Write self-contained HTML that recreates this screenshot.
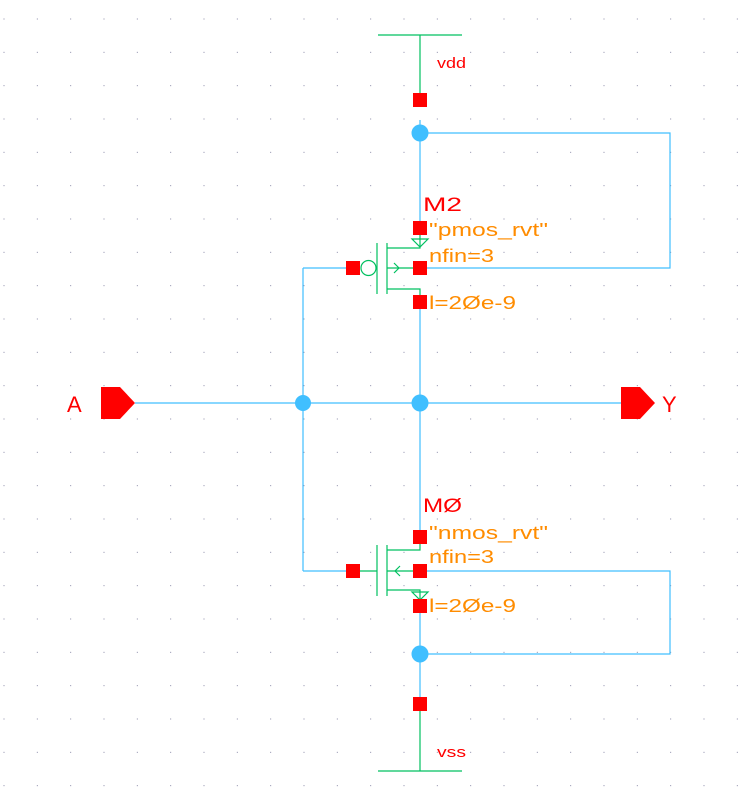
<!DOCTYPE html>
<html><head><style>html,body{margin:0;padding:0;background:#fff}svg{display:block}</style></head>
<body>
<svg width="755" height="805" xmlns="http://www.w3.org/2000/svg">
<defs>
<pattern id="g" x="3.5" y="18.5" width="33.333" height="33.333" patternUnits="userSpaceOnUse">
<rect x="0" y="0" width="1" height="1" fill="#8a8aa8"/>
</pattern>
</defs>
<rect width="755" height="805" fill="url(#g)"/>
<g stroke="#40bfff" stroke-width="1.2" fill="none">
<path d="M420 120V228M420 133H670V268H420M420 302V537M135 403H622M303 268V571M303 268H353M303 571H353M420 571H670V654H420M420 606V704"/>
</g>
<g stroke="#00c060" stroke-width="1.2" fill="none">
<path d="M378 35H462M420 35V100M420 704V771M378 771H462"/>
<path d="M377 243V294M387 243V294M387 248H420V228M387 268H420M387 289H420V302"/>
<circle cx="368.5" cy="268" r="7.5"/>
<path d="M412 239H428L420 247Z"/>
<path d="M394 263L399 268L394 273"/>
<path d="M377 545V596M387 545V596M387 550H420V537M360 571H377M387 571H420M387 590H420V606"/>
<path d="M412 592H428L420 600Z"/>
<path d="M400 566L395 571L400 576"/>
</g>
<g fill="#40bfff">
<circle cx="420" cy="133" r="8.5"/><circle cx="303" cy="403" r="8"/><circle cx="420" cy="403" r="8.5"/><circle cx="420" cy="654" r="8.5"/>
</g>
<g fill="#ff0000">
<rect x="413" y="93" width="14" height="14"/>
<rect x="413" y="221" width="14" height="14"/><rect x="413" y="261" width="14" height="14"/><rect x="413" y="295" width="14" height="14"/><rect x="346" y="261" width="14" height="14"/>
<rect x="413" y="530" width="14" height="14"/><rect x="413" y="564" width="14" height="14"/><rect x="413" y="599" width="14" height="14"/><rect x="346" y="564" width="14" height="14"/>
<rect x="413" y="697" width="14" height="14"/>
<path d="M101 387H120L135 403L120 419H101Z"/>
<path d="M621 387H640L655 403L640 419H621Z"/>
</g>
<g fill="#ff0000" font-family="Liberation Sans, sans-serif" lengthAdjust="spacingAndGlyphs">
<text x="437" y="68" font-size="15" textLength="29" lengthAdjust="spacingAndGlyphs">vdd</text>
<text x="437" y="757" font-size="15" textLength="29" lengthAdjust="spacingAndGlyphs">vss</text>
<text x="423" y="211" font-size="19" textLength="39" lengthAdjust="spacingAndGlyphs">M2</text>
<text x="423" y="512" font-size="19" textLength="39" lengthAdjust="spacingAndGlyphs">MØ</text>
<text x="67" y="412" font-size="22">A</text>
<text x="662" y="412" font-size="22">Y</text>
</g>
<g fill="#ff8c00" font-family="Liberation Sans, sans-serif" font-size="18">
<text x="429" y="236" textLength="119" lengthAdjust="spacingAndGlyphs">"pmos_rvt"</text>
<text x="429" y="262" textLength="65" lengthAdjust="spacingAndGlyphs">nfin=3</text>
<text x="429" y="309" textLength="87" lengthAdjust="spacingAndGlyphs">l=2Øe-9</text>
<text x="429" y="539" textLength="119" lengthAdjust="spacingAndGlyphs">"nmos_rvt"</text>
<text x="429" y="563" textLength="65" lengthAdjust="spacingAndGlyphs">nfin=3</text>
<text x="429" y="612" textLength="87" lengthAdjust="spacingAndGlyphs">l=2Øe-9</text>
</g>
</svg>
</body></html>
